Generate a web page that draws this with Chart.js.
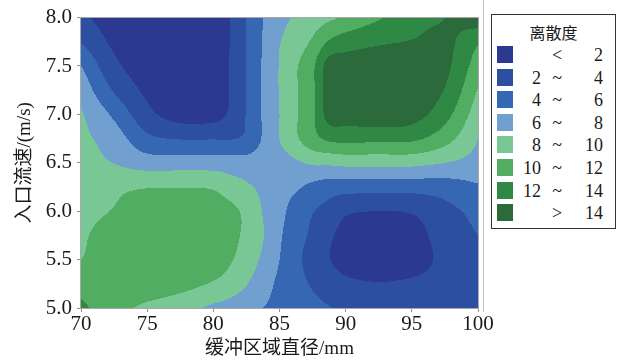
<!DOCTYPE html>
<html>
<head>
<meta charset="utf-8">
<script src="https://cdn.jsdelivr.net/npm/chart.js@4.4.1/dist/chart.umd.min.js"></script>
<style>
html,body{margin:0;padding:0;background:#fff;}
#wrap{position:relative;width:622px;height:361px;overflow:hidden;}
#c{position:absolute;left:0;top:0;}
#legend{position:absolute;left:491px;top:14px;width:125px;height:215px;border:1.5px solid #333;box-sizing:border-box;color:#1a1a1a;background:#fff;}
#legend .t{position:absolute;left:0;width:100%;top:7px;text-align:center;font-family:"Noto Sans CJK SC",sans-serif;font-size:16px;line-height:20px;}
#legend .sw{position:absolute;left:5px;width:16px;height:17px;}
#legend .l,#legend .s,#legend .r{position:absolute;font-family:"Liberation Serif","Times New Roman",serif;font-size:18px;line-height:18px;}
#legend .l{width:40px;left:9px;text-align:right;}
#legend .s{width:20px;left:55px;text-align:center;}
#legend .r{width:40px;left:71px;text-align:right;}
</style>
</head>
<body>
<div id="wrap">
<canvas id="c" width="622" height="361"></canvas>
<div id="legend"></div>
</div>
<script>
// ---- data ----
const xNodes = [70, 72.5, 75, 77.5, 80, 81.25, 82.5, 83.75, 85, 86.25, 87.5, 88.75, 90, 92.5, 95, 97.5, 100];
const yNodes = [8.0, 7.75, 7.5, 7.25, 7.0, 6.75, 6.5, 6.25, 6.0, 5.75, 5.5, 5.25, 5.0];
const row_8_00 = [2.4, 1.0, 0.6, 0.6, 1.1, 1.95, 4.0, 6.0, 7.3, 8.3, 8.9, 9.6, 10.3, 11.8, 13.1, 14.0, 15.5];
const row_7_75 = [3.9, 1.6, 0.7, 0.6, 1.0, 2.0, 4.1, 6.1, 7.9, 9.0, 10.3, 12.2, 13.0, 13.7, 14.1, 14.5, 12.3];
const row_7_50 = [6.0, 2.5, 1.0, 0.5, 0.9, 2.1, 4.1, 6.2, 8.1, 9.8, 11.6, 14.9, 15.0, 15.4, 15.4, 14.5, 11.0];
const row_7_25 = [7.3, 3.8, 1.6, 0.6, 0.9, 2.1, 4.1, 6.2, 8.1, 9.8, 11.6, 15.0, 15.1, 15.6, 15.3, 13.9, 9.9];
const row_7_00 = [8.2, 5.6, 2.6, 1.2, 1.3, 2.3, 4.1, 6.2, 8.0, 9.8, 11.6, 14.8, 14.8, 15.2, 14.8, 12.7, 8.9];
const row_6_75 = [8.5, 7.0, 4.5, 3.9, 3.9, 3.9, 4.4, 6.2, 8.0, 9.7, 11.3, 12.4, 12.6, 12.5, 12.4, 10.8, 8.0];
const row_6_50 = [8.8, 7.95, 7.0, 7.0, 7.0, 6.9, 6.8, 7.0, 7.2, 7.7, 8.3, 8.4, 8.6, 8.6, 8.6, 8.0, 7.3];
const row_6_25 = [9.1, 9.6, 9.9, 9.95, 9.8, 9.0, 8.3, 7.6, 6.9, 6.3, 5.5, 5.0, 4.9, 4.8, 4.8, 5.0, 5.8];
const row_6_00 = [9.4, 10.1, 10.9, 11.0, 10.8, 10.5, 9.5, 7.9, 6.7, 5.0, 4.1, 3.3, 2.3, 2.0, 2.2, 3.4, 4.6];
const row_5_75 = [9.7, 10.9, 11.6, 11.7, 11.3, 10.5, 9.6, 8.1, 6.3, 4.6, 3.7, 2.3, 1.5, 0.8, 1.2, 2.9, 4.0];
const row_5_50 = [10.0, 11.2, 11.6, 11.6, 11.1, 10.2, 9.1, 7.6, 6.0, 4.4, 3.4, 2.1, 1.4, 0.7, 1.1, 2.5, 3.3];
const row_5_25 = [11.3, 11.5, 11.3, 10.7, 9.8, 9.1, 8.1, 6.8, 5.6, 4.6, 3.8, 3.0, 2.4, 2.1, 2.3, 2.7, 3.0];
const row_5_00 = [12.4, 10.8, 9.5, 8.7, 7.6, 7.2, 6.6, 6.0, 5.5, 5.1, 4.6, 4.1, 3.8, 3.1, 2.9, 2.9, 3.0];
const levels = [2, 4, 6, 8, 10, 12, 14];
const bandColors = ['#2b3990', '#2c4fa1', '#3567b2', '#709fd0', '#78c795', '#50ad62', '#2f8844', '#2b6a3a'];
const legendTitle = '离散度';
const legendLeft = ['', '2', '4', '6', '8', '10', '12', ''];
const legendSym = ['<', '~', '~', '~', '~', '~', '~', '>'];
const legendRight = ['2', '4', '6', '8', '10', '12', '14', '14'];
const xTickValues = [70, 75, 80, 85, 90, 95, 100];
const yTickLabels = ['5.0', '5.5', '6.0', '6.5', '7.0', '7.5', '8.0'];
const xTitle = '缓冲区域直径/mm';
const yTitle = '入口流速/(m/s)';

// ---- build structures ----
const rowsTopDown = [row_8_00, row_7_75, row_7_50, row_7_25, row_7_00, row_6_75, row_6_50, row_6_25, row_6_00, row_5_75, row_5_50, row_5_25, row_5_00];
const yAsc = yNodes.slice().reverse();
const rowsAsc = rowsTopDown.slice().reverse();

function herm(xs, fs, x) {
  const n = xs.length;
  if (x <= xs[0]) x = xs[0];
  if (x >= xs[n - 1]) x = xs[n - 1];
  let i = 0;
  while (i < n - 2 && x > xs[i + 1]) i++;
  const tan = k => {
    if (k === 0) return (fs[1] - fs[0]) / (xs[1] - xs[0]);
    if (k === n - 1) return (fs[n - 1] - fs[n - 2]) / (xs[n - 1] - xs[n - 2]);
    return (fs[k + 1] - fs[k - 1]) / (xs[k + 1] - xs[k - 1]);
  };
  const h = xs[i + 1] - xs[i];
  const t = (x - xs[i]) / h, t2 = t * t, t3 = t2 * t;
  return (2 * t3 - 3 * t2 + 1) * fs[i] + (t3 - 2 * t2 + t) * h * tan(i) +
         (-2 * t3 + 3 * t2) * fs[i + 1] + (t3 - t2) * h * tan(i + 1);
}
function hexRgb(h) { return [parseInt(h.substr(1, 2), 16), parseInt(h.substr(3, 2), 16), parseInt(h.substr(5, 2), 16)]; }
const rgb = bandColors.map(hexRgb);

const contourPlugin = {
  id: 'contour',
  beforeDatasetsDraw(chart) {
    const { ctx, chartArea: a, scales } = chart;
    const xs = scales.x, ys = scales.y;
    const L = Math.round(a.left), T = Math.round(a.top);
    const w = Math.round(a.right) - L, h = Math.round(a.bottom) - T;
    const off = document.createElement('canvas');
    off.width = w; off.height = h;
    const octx = off.getContext('2d');
    const img = octx.createImageData(w, h);
    const yv = [];
    for (let j = 0; j < h; j++) yv.push(ys.getValueForPixel(T + j + 0.5));
    for (let i = 0; i < w; i++) {
      const xv = xs.getValueForPixel(L + i + 0.5);
      const col = rowsAsc.map(r => herm(xNodes, r, xv));
      for (let j = 0; j < h; j++) {
        const v = herm(yAsc, col, yv[j]);
        let b = 0;
        while (b < levels.length && v >= levels[b]) b++;
        const c = rgb[b], p = (j * w + i) * 4;
        img.data[p] = c[0]; img.data[p + 1] = c[1]; img.data[p + 2] = c[2]; img.data[p + 3] = 255;
      }
    }
    octx.putImageData(img, 0, 0);
    ctx.drawImage(off, L, T);
  },
  afterDraw(chart) {
    const { ctx, chartArea: a } = chart;
    ctx.save();
    ctx.strokeStyle = '#a8a8a8';
    ctx.lineWidth = 1;
    ctx.strokeRect(Math.round(a.left) - 0.5, Math.round(a.top) - 0.5, Math.round(a.right) - Math.round(a.left) + 1, Math.round(a.bottom) - Math.round(a.top) + 1);
    ctx.strokeStyle = '#c4c4c4';
    ctx.beginPath(); ctx.moveTo(483.5, 0); ctx.lineTo(483.5, 312); ctx.stroke();
    ctx.restore();
  }
};

const pts = [];
yNodes.forEach((yy, j) => xNodes.forEach((xx, i) => pts.push({ x: xx, y: yy, v: rowsTopDown[j][i] })));

const serif = "'Liberation Serif', 'Times New Roman', serif";
const titleFont = "'Liberation Serif', 'Noto Sans CJK SC', serif";

new Chart(document.getElementById('c'), {
  type: 'scatter',
  data: { datasets: [{ label: legendTitle, data: pts, pointRadius: 0, pointHoverRadius: 0, showLine: false }] },
  options: {
    responsive: false,
    animation: false,
    devicePixelRatio: 1,
    layout: { padding: { left: 0, right: 144, top: 14, bottom: 0 } },
    plugins: { legend: { display: false }, tooltip: { enabled: false } },
    scales: {
      x: {
        type: 'linear', min: 70, max: 100,
        afterFit: s => { s.height = 53; },
        afterBuildTicks: s => { s.ticks = xTickValues.map(v => ({ value: v })); },
        ticks: { font: { family: serif, size: 21 }, color: '#1a1a1a', padding: 0, maxRotation: 0, callback: v => String(v) },
        grid: { drawOnChartArea: false, drawTicks: true, tickLength: 4, color: '#909090' },
        border: { display: true, color: '#a8a8a8' },
        title: { display: true, text: xTitle, font: { family: titleFont, size: 19 }, color: '#1a1a1a', padding: { top: 0, bottom: 1 } }
      },
      y: {
        type: 'linear', min: 5, max: 8,
        afterFit: s => { s.width = 81; },
        afterBuildTicks: s => { s.ticks = yTickLabels.map(t => ({ value: parseFloat(t) })); },
        ticks: { font: { family: serif, size: 21 }, color: '#1a1a1a', padding: 5, callback: (v, i) => yTickLabels[i] },
        grid: { drawOnChartArea: false, drawTicks: true, tickLength: 4, color: '#909090' },
        border: { display: true, color: '#a8a8a8' },
        title: { display: true, text: yTitle, font: { family: titleFont, size: 19 }, color: '#1a1a1a', padding: { top: 14, bottom: 0 } }
      }
    }
  },
  plugins: [contourPlugin]
});

// ---- legend (real text) ----
const lg = document.getElementById('legend');
let html = '<div class="t">' + legendTitle + '</div>';
for (let i = 0; i < bandColors.length; i++) {
  const top = 31 + i * 22.6;
  html += '<div class="sw" style="top:' + top + 'px;background:' + bandColors[i] + '"></div>';
  html += '<div class="l" style="top:' + top + 'px">' + legendLeft[i] + '</div>';
  html += '<div class="s" style="top:' + top + 'px">' + legendSym[i] + '</div>';
  html += '<div class="r" style="top:' + top + 'px">' + legendRight[i] + '</div>';
}
lg.innerHTML = html;
</script>
</body>
</html>
